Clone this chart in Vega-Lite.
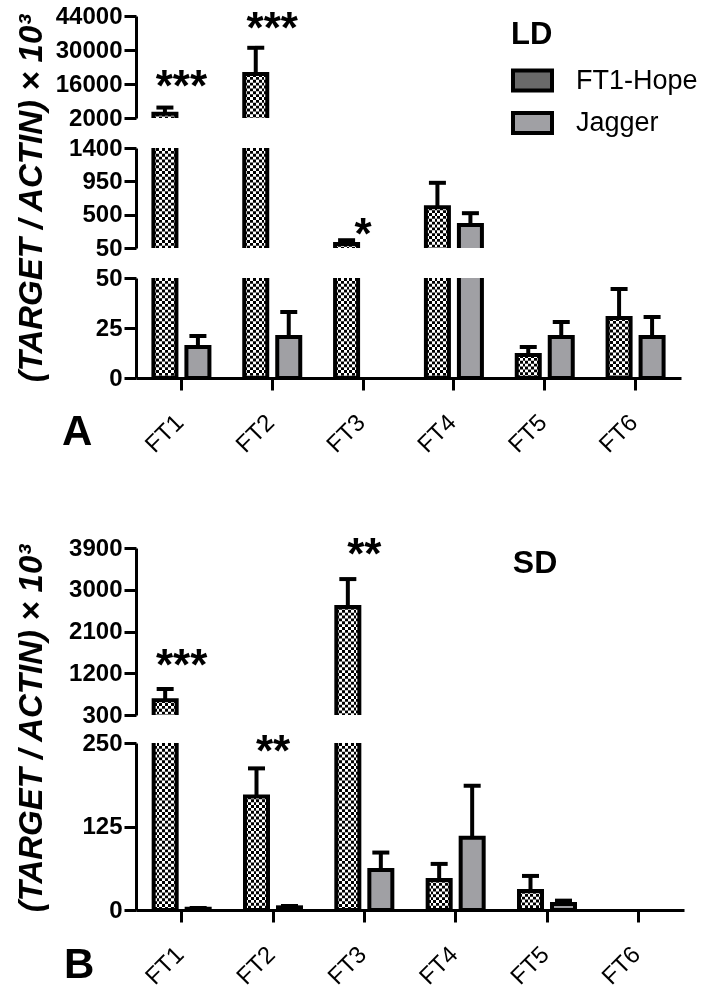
{
"$schema": "https://vega.github.io/schema/vega-lite/v6.json",
"padding": {"left": 15, "top": 4, "right": 0, "bottom": 0},
"datasets": {
"ld": [
 {"g":"FT1","c":"FT1-Hope","v":3800,"u":6300},
 {"g":"FT1","c":"Jagger","v":15.5,"u":21},
 {"g":"FT2","c":"FT1-Hope","v":20100,"u":30900},
 {"g":"FT2","c":"Jagger","v":20.5,"u":33},
 {"g":"FT3","c":"FT1-Hope","v":105,"u":155},
 {"g":"FT4","c":"FT1-Hope","v":600,"u":930},
 {"g":"FT4","c":"Jagger","v":360,"u":520},
 {"g":"FT5","c":"FT1-Hope","v":11.5,"u":15.5},
 {"g":"FT5","c":"Jagger","v":20.5,"u":28},
 {"g":"FT6","c":"FT1-Hope","v":30,"u":44.5},
 {"g":"FT6","c":"Jagger","v":20.5,"u":30.5}
],
"ldstars": [
 {"g":"FT1","t":"***","y":8800,"seg":"top"},
 {"g":"FT2","t":"***","y":32700,"seg":"top"},
 {"g":"FT3","t":"*","y":30,"seg":"mid"}
],
"sd": [
 {"g":"FT1","c":"FT1-Hope","v":620,"u":860},
 {"g":"FT1","c":"Jagger","v":2,"u":3},
 {"g":"FT2","c":"FT1-Hope","v":170,"u":212},
 {"g":"FT2","c":"Jagger","v":4,"u":6},
 {"g":"FT3","c":"FT1-Hope","v":2630,"u":3230},
 {"g":"FT3","c":"Jagger","v":60,"u":86},
 {"g":"FT4","c":"FT1-Hope","v":45,"u":69},
 {"g":"FT4","c":"Jagger","v":108,"u":186},
 {"g":"FT5","c":"FT1-Hope","v":28.5,"u":51},
 {"g":"FT5","c":"Jagger","v":9,"u":14}
],
"sdstars": [
 {"g":"FT1","t":"***","y":1065,"seg":"top"},
 {"g":"FT2","t":"**","y":216,"seg":"bot"},
 {"g":"FT3","t":"**","y":3437,"seg":"top"},
 {"g":"FT5","t":"SD","y":3360,"seg":"label"}
]
},
"spacing": 76,
"resolve": {"scale": {"x": "independent", "xOffset": "independent", "y": "independent", "fill": "independent"}, "legend": {"fill": "independent"}},
"vconcat": [
{
"spacing": 30, "bounds": "flush",
"resolve": {"scale": {"x": "independent", "xOffset": "independent", "y": "independent", "fill": "independent"}, "legend": {"fill": "independent"}},
"vconcat": [
{
 "width": 545, "height": 102,
 "data": {"name": "ld"},
 "resolve": {"scale": {"y": "independent"}},
 "layer": [
  {"transform": [{"filter": "datum.c === 'Jagger'"}],
   "mark": {"type": "bar", "clip": true},
   "encoding": {
    "x": {"field":"g","type":"nominal","scale":{"domain":["FT1","FT2","FT3","FT4","FT5","FT6"],"paddingInner":0.3835,"paddingOuter":0.19175},"axis":null},
    "xOffset": {"field":"c","type":"nominal","scale":{"domain":["FT1-Hope","Jagger"],"paddingInner":0.303,"paddingOuter":0}},
    "y": {"field":"v","type":"quantitative","scale":{"domain":[2000,44000],"zero":false,"nice":false},"axis":{"values":[2000,16000,30000,44000],"format":"d","title":null}},
    "y2": {"datum": -40000},
    "fill": {"field":"c","type":"nominal","scale":{"domain":["FT1-Hope","Jagger"],"range":["#6a6a6a","#a0a0a4"]},
      "legend": {"title":"LD","orient":"none","legendX":375,"legendY":4,"padding":0,"titleFontSize":31,"titleFontWeight":"bold","titleColor":"black","titlePadding":8,"labelFontSize":27,"labelColor":"black","labelOffset":22,"symbolType":"M-1,-0.513H1V0.513H-1Z","symbolSize":1521,"symbolStrokeColor":"black","symbolStrokeWidth":4,"rowPadding":2.5,"symbolOpacity":1}}
   }},
  {"transform": [{"filter": "datum.c === 'FT1-Hope'"}],
   "mark": {"type": "bar", "clip": true, "fill": {"gradient":"linear","x1":0,"y1":0,"x2":1,"y2":0,"stops":[{"offset":0,"color":"#000000"},{"offset":0.125,"color":"#000000"},{"offset":0.125,"color":"#ffffff"},{"offset":0.25,"color":"#ffffff"},{"offset":0.25,"color":"#000000"},{"offset":0.375,"color":"#000000"},{"offset":0.375,"color":"#ffffff"},{"offset":0.5,"color":"#ffffff"},{"offset":0.5,"color":"#000000"},{"offset":0.625,"color":"#000000"},{"offset":0.625,"color":"#ffffff"},{"offset":0.75,"color":"#ffffff"},{"offset":0.75,"color":"#000000"},{"offset":0.875,"color":"#000000"},{"offset":0.875,"color":"#ffffff"},{"offset":1,"color":"#ffffff"}]}},
   "encoding": {
    "x": {"field":"g","type":"nominal","scale":{"domain":["FT1","FT2","FT3","FT4","FT5","FT6"],"paddingInner":0.3835,"paddingOuter":0.19175},"axis":null},
    "xOffset": {"field":"c","type":"nominal","scale":{"domain":["FT1-Hope","Jagger"],"paddingInner":0.303,"paddingOuter":0}},
    "y": {"field":"v","type":"quantitative","scale":{"domain":[2000,44000],"zero":false,"nice":false},"axis":null},
    "y2": {"datum": -40000}
   }},
  {"transform": [{"filter": "datum.c === 'FT1-Hope' && datum.v > 2000"}],
   "mark": {"type": "rule", "color": "white", "strokeWidth": 23, "strokeDash": [2.875, 2.875], "strokeCap": "butt", "blend": "difference"},
   "encoding": {
    "x": {"field":"g","type":"nominal","scale":{"domain":["FT1","FT2","FT3","FT4","FT5","FT6"],"paddingInner":0.3835,"paddingOuter":0.19175},"axis":null},
    "xOffset": {"field":"c","type":"nominal","scale":{"domain":["FT1-Hope","Jagger"],"paddingInner":0.303,"paddingOuter":0}},
    "y": {"field":"v","type":"quantitative","scale":{"domain":[2000,44000],"zero":false,"nice":false,"clamp":true},"axis":null},
    "y2": {"datum": -40000}
   }},
  {"transform": [{"filter": "datum.v > 2000"}],
   "mark": {"type": "bar", "clip": true, "fill": "transparent", "stroke": "black", "strokeWidth": 4},
   "encoding": {
    "x": {"field":"g","type":"nominal","scale":{"domain":["FT1","FT2","FT3","FT4","FT5","FT6"],"paddingInner":0.3835,"paddingOuter":0.19175},"axis":null},
    "xOffset": {"field":"c","type":"nominal","scale":{"domain":["FT1-Hope","Jagger"],"paddingInner":0.303,"paddingOuter":0}},
    "y": {"field":"v","type":"quantitative","scale":{"domain":[2000,44000],"zero":false,"nice":false},"axis":null},
    "y2": {"datum": -40000}
   }},
  {"transform": [{"filter": "datum.u > 2000"}],
   "mark": {"type": "rule", "clip": true, "color": "black", "strokeWidth": 4},
   "encoding": {
    "x": {"field":"g","type":"nominal","scale":{"domain":["FT1","FT2","FT3","FT4","FT5","FT6"],"paddingInner":0.3835,"paddingOuter":0.19175},"axis":null},
    "xOffset": {"field":"c","type":"nominal","scale":{"domain":["FT1-Hope","Jagger"],"paddingInner":0.303,"paddingOuter":0}},
    "y": {"field":"v","type":"quantitative","scale":{"domain":[2000,44000],"zero":false,"nice":false},"axis":null},
    "y2": {"field": "u"}
   }},
  {"transform": [{"filter": "datum.u > 2000"}],
   "mark": {"type": "tick", "clip": true, "color": "black", "thickness": 4, "size": 17, "opacity": 1},
   "encoding": {
    "x": {"field":"g","type":"nominal","scale":{"domain":["FT1","FT2","FT3","FT4","FT5","FT6"],"paddingInner":0.3835,"paddingOuter":0.19175},"axis":null},
    "xOffset": {"field":"c","type":"nominal","scale":{"domain":["FT1-Hope","Jagger"],"paddingInner":0.303,"paddingOuter":0}},
    "y": {"field":"u","type":"quantitative","scale":{"domain":[2000,44000],"zero":false,"nice":false},"axis":null}
   }},
  {"data": {"name": "ldstars"},
   "transform": [{"filter": "datum.seg === 'top'"}],
   "mark": {"type": "text", "fontSize": 44, "fontWeight": "bold", "baseline": "alphabetic", "color": "black"},
   "encoding": {
    "x": {"field":"g","type":"nominal","scale":{"domain":["FT1","FT2","FT3","FT4","FT5","FT6"],"paddingInner":0.3835,"paddingOuter":0.19175},"axis":null},
    "y": {"field":"y","type":"quantitative","scale":{"domain":[2000,44000],"zero":false,"nice":false},"axis":null},
    "text": {"field": "t"}
   }}
 ]
},
{
 "width": 545, "height": 100,
 "data": {"name": "ld"},
 "resolve": {"scale": {"y": "independent"}},
 "layer": [
  {"transform": [{"filter": "datum.c === 'Jagger'"}],
   "mark": {"type": "bar", "clip": true, "fill": "#a0a0a4"},
   "encoding": {
    "x": {"field":"g","type":"nominal","scale":{"domain":["FT1","FT2","FT3","FT4","FT5","FT6"],"paddingInner":0.3835,"paddingOuter":0.19175},"axis":null},
    "xOffset": {"field":"c","type":"nominal","scale":{"domain":["FT1-Hope","Jagger"],"paddingInner":0.303,"paddingOuter":0}},
    "y": {"field":"v","type":"quantitative","scale":{"domain":[50,1400],"zero":false,"nice":false},"axis":{"values":[50,500,950,1400],"format":"d","title":"(TARGET / ACTIN) × 10³","titleFontSize":33,"titleFontWeight":"bold","titleFontStyle":"italic","titlePadding":20}},
    "y2": {"datum": -1300}
   }},
  {"transform": [{"filter": "datum.c === 'FT1-Hope'"}],
   "mark": {"type": "bar", "clip": true, "fill": {"gradient":"linear","x1":0,"y1":0,"x2":1,"y2":0,"stops":[{"offset":0,"color":"#000000"},{"offset":0.125,"color":"#000000"},{"offset":0.125,"color":"#ffffff"},{"offset":0.25,"color":"#ffffff"},{"offset":0.25,"color":"#000000"},{"offset":0.375,"color":"#000000"},{"offset":0.375,"color":"#ffffff"},{"offset":0.5,"color":"#ffffff"},{"offset":0.5,"color":"#000000"},{"offset":0.625,"color":"#000000"},{"offset":0.625,"color":"#ffffff"},{"offset":0.75,"color":"#ffffff"},{"offset":0.75,"color":"#000000"},{"offset":0.875,"color":"#000000"},{"offset":0.875,"color":"#ffffff"},{"offset":1,"color":"#ffffff"}]}},
   "encoding": {
    "x": {"field":"g","type":"nominal","scale":{"domain":["FT1","FT2","FT3","FT4","FT5","FT6"],"paddingInner":0.3835,"paddingOuter":0.19175},"axis":null},
    "xOffset": {"field":"c","type":"nominal","scale":{"domain":["FT1-Hope","Jagger"],"paddingInner":0.303,"paddingOuter":0}},
    "y": {"field":"v","type":"quantitative","scale":{"domain":[50,1400],"zero":false,"nice":false},"axis":null},
    "y2": {"datum": -1300}
   }},
  {"transform": [{"filter": "datum.c === 'FT1-Hope' && datum.v > 50"}],
   "mark": {"type": "rule", "color": "white", "strokeWidth": 23, "strokeDash": [2.875, 2.875], "strokeCap": "butt", "blend": "difference"},
   "encoding": {
    "x": {"field":"g","type":"nominal","scale":{"domain":["FT1","FT2","FT3","FT4","FT5","FT6"],"paddingInner":0.3835,"paddingOuter":0.19175},"axis":null},
    "xOffset": {"field":"c","type":"nominal","scale":{"domain":["FT1-Hope","Jagger"],"paddingInner":0.303,"paddingOuter":0}},
    "y": {"field":"v","type":"quantitative","scale":{"domain":[50,1400],"zero":false,"nice":false,"clamp":true},"axis":null},
    "y2": {"datum": -1300}
   }},
  {"transform": [{"filter": "datum.v > 50"}],
   "mark": {"type": "bar", "clip": true, "fill": "transparent", "stroke": "black", "strokeWidth": 4},
   "encoding": {
    "x": {"field":"g","type":"nominal","scale":{"domain":["FT1","FT2","FT3","FT4","FT5","FT6"],"paddingInner":0.3835,"paddingOuter":0.19175},"axis":null},
    "xOffset": {"field":"c","type":"nominal","scale":{"domain":["FT1-Hope","Jagger"],"paddingInner":0.303,"paddingOuter":0}},
    "y": {"field":"v","type":"quantitative","scale":{"domain":[50,1400],"zero":false,"nice":false},"axis":null},
    "y2": {"datum": -1300}
   }},
  {"transform": [{"filter": "datum.u > 50"}],
   "mark": {"type": "rule", "clip": true, "color": "black", "strokeWidth": 4},
   "encoding": {
    "x": {"field":"g","type":"nominal","scale":{"domain":["FT1","FT2","FT3","FT4","FT5","FT6"],"paddingInner":0.3835,"paddingOuter":0.19175},"axis":null},
    "xOffset": {"field":"c","type":"nominal","scale":{"domain":["FT1-Hope","Jagger"],"paddingInner":0.303,"paddingOuter":0}},
    "y": {"field":"v","type":"quantitative","scale":{"domain":[50,1400],"zero":false,"nice":false},"axis":null},
    "y2": {"field": "u"}
   }},
  {"transform": [{"filter": "datum.u > 50"}],
   "mark": {"type": "tick", "clip": true, "color": "black", "thickness": 4, "size": 17, "opacity": 1},
   "encoding": {
    "x": {"field":"g","type":"nominal","scale":{"domain":["FT1","FT2","FT3","FT4","FT5","FT6"],"paddingInner":0.3835,"paddingOuter":0.19175},"axis":null},
    "xOffset": {"field":"c","type":"nominal","scale":{"domain":["FT1-Hope","Jagger"],"paddingInner":0.303,"paddingOuter":0}},
    "y": {"field":"u","type":"quantitative","scale":{"domain":[50,1400],"zero":false,"nice":false},"axis":null}
   }},
  {"data": {"name": "ldstars"},
   "transform": [{"filter": "datum.seg === 'mid'"}],
   "mark": {"type": "text", "fontSize": 44, "fontWeight": "bold", "baseline": "alphabetic", "color": "black"},
   "encoding": {
    "x": {"field":"g","type":"nominal","scale":{"domain":["FT1","FT2","FT3","FT4","FT5","FT6"],"paddingInner":0.3835,"paddingOuter":0.19175},"axis":null},
    "y": {"field":"y","type":"quantitative","scale":{"domain":[50,1400],"zero":false,"nice":false},"axis":null},
    "text": {"field": "t"}
   }}
 ]
},
{
 "width": 545, "height": 100,
 "data": {"name": "ld"},
 "title": {"text": "A", "orient": "bottom", "anchor": "start", "frame": "group", "fontSize": 42, "fontWeight": "bold", "color": "black", "dx": -74, "offset": -45},
 "resolve": {"scale": {"y": "independent"}},
 "layer": [
  {"transform": [{"filter": "datum.c === 'Jagger'"}],
   "mark": {"type": "bar", "clip": true, "fill": "#a0a0a4"},
   "encoding": {
    "x": {"field":"g","type":"nominal","scale":{"domain":["FT1","FT2","FT3","FT4","FT5","FT6"],"paddingInner":0.3835,"paddingOuter":0.19175},"axis":{"title":null}},
    "xOffset": {"field":"c","type":"nominal","scale":{"domain":["FT1-Hope","Jagger"],"paddingInner":0.303,"paddingOuter":0}},
    "y": {"field":"v","type":"quantitative","scale":{"domain":[0,50],"zero":false,"nice":false},"axis":{"values":[0,25,50],"format":"d","title":null}},
    "y2": {"datum": 0}
   }},
  {"transform": [{"filter": "datum.c === 'FT1-Hope'"}],
   "mark": {"type": "bar", "clip": true, "fill": {"gradient":"linear","x1":0,"y1":0,"x2":1,"y2":0,"stops":[{"offset":0,"color":"#000000"},{"offset":0.125,"color":"#000000"},{"offset":0.125,"color":"#ffffff"},{"offset":0.25,"color":"#ffffff"},{"offset":0.25,"color":"#000000"},{"offset":0.375,"color":"#000000"},{"offset":0.375,"color":"#ffffff"},{"offset":0.5,"color":"#ffffff"},{"offset":0.5,"color":"#000000"},{"offset":0.625,"color":"#000000"},{"offset":0.625,"color":"#ffffff"},{"offset":0.75,"color":"#ffffff"},{"offset":0.75,"color":"#000000"},{"offset":0.875,"color":"#000000"},{"offset":0.875,"color":"#ffffff"},{"offset":1,"color":"#ffffff"}]}},
   "encoding": {
    "x": {"field":"g","type":"nominal","scale":{"domain":["FT1","FT2","FT3","FT4","FT5","FT6"],"paddingInner":0.3835,"paddingOuter":0.19175},"axis":{"title":null}},
    "xOffset": {"field":"c","type":"nominal","scale":{"domain":["FT1-Hope","Jagger"],"paddingInner":0.303,"paddingOuter":0}},
    "y": {"field":"v","type":"quantitative","scale":{"domain":[0,50],"zero":false,"nice":false},"axis":null},
    "y2": {"datum": 0}
   }},
  {"transform": [{"filter": "datum.c === 'FT1-Hope' && datum.v > 0"}],
   "mark": {"type": "rule", "color": "white", "strokeWidth": 23, "strokeDash": [2.875, 2.875], "strokeCap": "butt", "blend": "difference"},
   "encoding": {
    "x": {"field":"g","type":"nominal","scale":{"domain":["FT1","FT2","FT3","FT4","FT5","FT6"],"paddingInner":0.3835,"paddingOuter":0.19175},"axis":{"title":null}},
    "xOffset": {"field":"c","type":"nominal","scale":{"domain":["FT1-Hope","Jagger"],"paddingInner":0.303,"paddingOuter":0}},
    "y": {"field":"v","type":"quantitative","scale":{"domain":[0,50],"zero":false,"nice":false,"clamp":true},"axis":null},
    "y2": {"datum": 0}
   }},
  {"mark": {"type": "bar", "clip": true, "fill": "transparent", "stroke": "black", "strokeWidth": 4},
   "encoding": {
    "x": {"field":"g","type":"nominal","scale":{"domain":["FT1","FT2","FT3","FT4","FT5","FT6"],"paddingInner":0.3835,"paddingOuter":0.19175},"axis":{"title":null}},
    "xOffset": {"field":"c","type":"nominal","scale":{"domain":["FT1-Hope","Jagger"],"paddingInner":0.303,"paddingOuter":0}},
    "y": {"field":"v","type":"quantitative","scale":{"domain":[0,50],"zero":false,"nice":false},"axis":null},
    "y2": {"datum": 0}
   }},
  {"mark": {"type": "rule", "clip": true, "color": "black", "strokeWidth": 4},
   "encoding": {
    "x": {"field":"g","type":"nominal","scale":{"domain":["FT1","FT2","FT3","FT4","FT5","FT6"],"paddingInner":0.3835,"paddingOuter":0.19175},"axis":{"title":null}},
    "xOffset": {"field":"c","type":"nominal","scale":{"domain":["FT1-Hope","Jagger"],"paddingInner":0.303,"paddingOuter":0}},
    "y": {"field":"v","type":"quantitative","scale":{"domain":[0,50],"zero":false,"nice":false},"axis":null},
    "y2": {"field": "u"}
   }},
  {"mark": {"type": "tick", "clip": true, "color": "black", "thickness": 4, "size": 17, "opacity": 1},
   "encoding": {
    "x": {"field":"g","type":"nominal","scale":{"domain":["FT1","FT2","FT3","FT4","FT5","FT6"],"paddingInner":0.3835,"paddingOuter":0.19175},"axis":{"title":null}},
    "xOffset": {"field":"c","type":"nominal","scale":{"domain":["FT1-Hope","Jagger"],"paddingInner":0.303,"paddingOuter":0}},
    "y": {"field":"u","type":"quantitative","scale":{"domain":[0,50],"zero":false,"nice":false},"axis":null}
   }}
 ]
}
]
},
{
"spacing": 28, "bounds": "flush",
"resolve": {"scale": {"x": "independent", "xOffset": "independent", "y": "independent", "fill": "independent"}, "legend": {"fill": "independent"}},
"vconcat": [
{
 "width": 548, "height": 167,
 "data": {"name": "sd"},
 "resolve": {"scale": {"y": "independent"}},
 "layer": [
  {"transform": [{"filter": "datum.c === 'Jagger'"}],
   "mark": {"type": "bar", "clip": true, "fill": "#a0a0a4"},
   "encoding": {
    "x": {"field":"g","type":"nominal","scale":{"domain":["FT1","FT2","FT3","FT4","FT5","FT6"],"paddingInner":0.3868,"paddingOuter":0.1934},"axis":null},
    "xOffset": {"field":"c","type":"nominal","scale":{"domain":["FT1-Hope","Jagger"],"paddingInner":0.303,"paddingOuter":0}},
    "y": {"field":"v","type":"quantitative","scale":{"domain":[300,3900],"zero":false,"nice":false},"axis":{"values":[300,1200,2100,3000,3900],"format":"d","title":"(TARGET / ACTIN) × 10³","titleFontSize":33,"titleFontWeight":"bold","titleFontStyle":"italic","titlePadding":20,"titleY":180}},
    "y2": {"datum": -3300}
   }},
  {"transform": [{"filter": "datum.c === 'FT1-Hope'"}],
   "mark": {"type": "bar", "clip": true, "fill": {"gradient":"linear","x1":0,"y1":0,"x2":1,"y2":0,"stops":[{"offset":0,"color":"#000000"},{"offset":0.125,"color":"#000000"},{"offset":0.125,"color":"#ffffff"},{"offset":0.25,"color":"#ffffff"},{"offset":0.25,"color":"#000000"},{"offset":0.375,"color":"#000000"},{"offset":0.375,"color":"#ffffff"},{"offset":0.5,"color":"#ffffff"},{"offset":0.5,"color":"#000000"},{"offset":0.625,"color":"#000000"},{"offset":0.625,"color":"#ffffff"},{"offset":0.75,"color":"#ffffff"},{"offset":0.75,"color":"#000000"},{"offset":0.875,"color":"#000000"},{"offset":0.875,"color":"#ffffff"},{"offset":1,"color":"#ffffff"}]}},
   "encoding": {
    "x": {"field":"g","type":"nominal","scale":{"domain":["FT1","FT2","FT3","FT4","FT5","FT6"],"paddingInner":0.3868,"paddingOuter":0.1934},"axis":null},
    "xOffset": {"field":"c","type":"nominal","scale":{"domain":["FT1-Hope","Jagger"],"paddingInner":0.303,"paddingOuter":0}},
    "y": {"field":"v","type":"quantitative","scale":{"domain":[300,3900],"zero":false,"nice":false},"axis":null},
    "y2": {"datum": -3300}
   }},
  {"transform": [{"filter": "datum.c === 'FT1-Hope' && datum.v > 300"}],
   "mark": {"type": "rule", "color": "white", "strokeWidth": 23, "strokeDash": [2.875, 2.875], "strokeCap": "butt", "blend": "difference"},
   "encoding": {
    "x": {"field":"g","type":"nominal","scale":{"domain":["FT1","FT2","FT3","FT4","FT5","FT6"],"paddingInner":0.3868,"paddingOuter":0.1934},"axis":null},
    "xOffset": {"field":"c","type":"nominal","scale":{"domain":["FT1-Hope","Jagger"],"paddingInner":0.303,"paddingOuter":0}},
    "y": {"field":"v","type":"quantitative","scale":{"domain":[300,3900],"zero":false,"nice":false,"clamp":true},"axis":null},
    "y2": {"datum": -3300}
   }},
  {"transform": [{"filter": "datum.v > 300"}],
   "mark": {"type": "bar", "clip": true, "fill": "transparent", "stroke": "black", "strokeWidth": 4},
   "encoding": {
    "x": {"field":"g","type":"nominal","scale":{"domain":["FT1","FT2","FT3","FT4","FT5","FT6"],"paddingInner":0.3868,"paddingOuter":0.1934},"axis":null},
    "xOffset": {"field":"c","type":"nominal","scale":{"domain":["FT1-Hope","Jagger"],"paddingInner":0.303,"paddingOuter":0}},
    "y": {"field":"v","type":"quantitative","scale":{"domain":[300,3900],"zero":false,"nice":false},"axis":null},
    "y2": {"datum": -3300}
   }},
  {"transform": [{"filter": "datum.u > 300"}],
   "mark": {"type": "rule", "clip": true, "color": "black", "strokeWidth": 4},
   "encoding": {
    "x": {"field":"g","type":"nominal","scale":{"domain":["FT1","FT2","FT3","FT4","FT5","FT6"],"paddingInner":0.3868,"paddingOuter":0.1934},"axis":null},
    "xOffset": {"field":"c","type":"nominal","scale":{"domain":["FT1-Hope","Jagger"],"paddingInner":0.303,"paddingOuter":0}},
    "y": {"field":"v","type":"quantitative","scale":{"domain":[300,3900],"zero":false,"nice":false},"axis":null},
    "y2": {"field": "u"}
   }},
  {"transform": [{"filter": "datum.u > 300"}],
   "mark": {"type": "tick", "clip": true, "color": "black", "thickness": 4, "size": 17, "opacity": 1},
   "encoding": {
    "x": {"field":"g","type":"nominal","scale":{"domain":["FT1","FT2","FT3","FT4","FT5","FT6"],"paddingInner":0.3868,"paddingOuter":0.1934},"axis":null},
    "xOffset": {"field":"c","type":"nominal","scale":{"domain":["FT1-Hope","Jagger"],"paddingInner":0.303,"paddingOuter":0}},
    "y": {"field":"u","type":"quantitative","scale":{"domain":[300,3900],"zero":false,"nice":false},"axis":null}
   }},
  {"data": {"name": "sdstars"},
   "transform": [{"filter": "datum.seg === 'top'"}],
   "mark": {"type": "text", "fontSize": 44, "fontWeight": "bold", "baseline": "alphabetic", "color": "black"},
   "encoding": {
    "x": {"field":"g","type":"nominal","scale":{"domain":["FT1","FT2","FT3","FT4","FT5","FT6"],"paddingInner":0.3868,"paddingOuter":0.1934},"axis":null},
    "y": {"field":"y","type":"quantitative","scale":{"domain":[300,3900],"zero":false,"nice":false},"axis":null},
    "text": {"field": "t"}
   }},
  {"data": {"name": "sdstars"},
   "transform": [{"filter": "datum.seg === 'label'"}],
   "mark": {"type": "text", "fontSize": 32, "fontWeight": "bold", "baseline": "alphabetic", "color": "black", "dx": -12},
   "encoding": {
    "x": {"field":"g","type":"nominal","scale":{"domain":["FT1","FT2","FT3","FT4","FT5","FT6"],"paddingInner":0.3868,"paddingOuter":0.1934},"axis":null},
    "y": {"field":"y","type":"quantitative","scale":{"domain":[300,3900],"zero":false,"nice":false},"axis":null},
    "text": {"field": "t"}
   }}
 ]
},
{
 "width": 548, "height": 167,
 "data": {"name": "sd"},
 "title": {"text": "B", "orient": "bottom", "anchor": "start", "frame": "group", "fontSize": 42, "fontWeight": "bold", "color": "black", "dx": -72, "offset": -44},
 "resolve": {"scale": {"y": "independent"}},
 "layer": [
  {"transform": [{"filter": "datum.c === 'Jagger'"}],
   "mark": {"type": "bar", "clip": true, "fill": "#a0a0a4"},
   "encoding": {
    "x": {"field":"g","type":"nominal","scale":{"domain":["FT1","FT2","FT3","FT4","FT5","FT6"],"paddingInner":0.3868,"paddingOuter":0.1934},"axis":{"title":null}},
    "xOffset": {"field":"c","type":"nominal","scale":{"domain":["FT1-Hope","Jagger"],"paddingInner":0.303,"paddingOuter":0}},
    "y": {"field":"v","type":"quantitative","scale":{"domain":[0,250],"zero":false,"nice":false},"axis":{"values":[0,125,250],"format":"d","title":null}},
    "y2": {"datum": 0}
   }},
  {"transform": [{"filter": "datum.c === 'FT1-Hope'"}],
   "mark": {"type": "bar", "clip": true, "fill": {"gradient":"linear","x1":0,"y1":0,"x2":1,"y2":0,"stops":[{"offset":0,"color":"#000000"},{"offset":0.125,"color":"#000000"},{"offset":0.125,"color":"#ffffff"},{"offset":0.25,"color":"#ffffff"},{"offset":0.25,"color":"#000000"},{"offset":0.375,"color":"#000000"},{"offset":0.375,"color":"#ffffff"},{"offset":0.5,"color":"#ffffff"},{"offset":0.5,"color":"#000000"},{"offset":0.625,"color":"#000000"},{"offset":0.625,"color":"#ffffff"},{"offset":0.75,"color":"#ffffff"},{"offset":0.75,"color":"#000000"},{"offset":0.875,"color":"#000000"},{"offset":0.875,"color":"#ffffff"},{"offset":1,"color":"#ffffff"}]}},
   "encoding": {
    "x": {"field":"g","type":"nominal","scale":{"domain":["FT1","FT2","FT3","FT4","FT5","FT6"],"paddingInner":0.3868,"paddingOuter":0.1934},"axis":{"title":null}},
    "xOffset": {"field":"c","type":"nominal","scale":{"domain":["FT1-Hope","Jagger"],"paddingInner":0.303,"paddingOuter":0}},
    "y": {"field":"v","type":"quantitative","scale":{"domain":[0,250],"zero":false,"nice":false},"axis":null},
    "y2": {"datum": 0}
   }},
  {"transform": [{"filter": "datum.c === 'FT1-Hope' && datum.v > 0"}],
   "mark": {"type": "rule", "color": "white", "strokeWidth": 23, "strokeDash": [2.875, 2.875], "strokeCap": "butt", "blend": "difference"},
   "encoding": {
    "x": {"field":"g","type":"nominal","scale":{"domain":["FT1","FT2","FT3","FT4","FT5","FT6"],"paddingInner":0.3868,"paddingOuter":0.1934},"axis":{"title":null}},
    "xOffset": {"field":"c","type":"nominal","scale":{"domain":["FT1-Hope","Jagger"],"paddingInner":0.303,"paddingOuter":0}},
    "y": {"field":"v","type":"quantitative","scale":{"domain":[0,250],"zero":false,"nice":false,"clamp":true},"axis":null},
    "y2": {"datum": 0}
   }},
  {"mark": {"type": "bar", "clip": true, "fill": "transparent", "stroke": "black", "strokeWidth": 4},
   "encoding": {
    "x": {"field":"g","type":"nominal","scale":{"domain":["FT1","FT2","FT3","FT4","FT5","FT6"],"paddingInner":0.3868,"paddingOuter":0.1934},"axis":{"title":null}},
    "xOffset": {"field":"c","type":"nominal","scale":{"domain":["FT1-Hope","Jagger"],"paddingInner":0.303,"paddingOuter":0}},
    "y": {"field":"v","type":"quantitative","scale":{"domain":[0,250],"zero":false,"nice":false},"axis":null},
    "y2": {"datum": 0}
   }},
  {"mark": {"type": "rule", "clip": true, "color": "black", "strokeWidth": 4},
   "encoding": {
    "x": {"field":"g","type":"nominal","scale":{"domain":["FT1","FT2","FT3","FT4","FT5","FT6"],"paddingInner":0.3868,"paddingOuter":0.1934},"axis":{"title":null}},
    "xOffset": {"field":"c","type":"nominal","scale":{"domain":["FT1-Hope","Jagger"],"paddingInner":0.303,"paddingOuter":0}},
    "y": {"field":"v","type":"quantitative","scale":{"domain":[0,250],"zero":false,"nice":false},"axis":null},
    "y2": {"field": "u"}
   }},
  {"mark": {"type": "tick", "clip": true, "color": "black", "thickness": 4, "size": 17, "opacity": 1},
   "encoding": {
    "x": {"field":"g","type":"nominal","scale":{"domain":["FT1","FT2","FT3","FT4","FT5","FT6"],"paddingInner":0.3868,"paddingOuter":0.1934},"axis":{"title":null}},
    "xOffset": {"field":"c","type":"nominal","scale":{"domain":["FT1-Hope","Jagger"],"paddingInner":0.303,"paddingOuter":0}},
    "y": {"field":"u","type":"quantitative","scale":{"domain":[0,250],"zero":false,"nice":false},"axis":null}
   }},
  {"data": {"name": "sdstars"},
   "transform": [{"filter": "datum.seg === 'bot'"}],
   "mark": {"type": "text", "fontSize": 44, "fontWeight": "bold", "baseline": "alphabetic", "color": "black"},
   "encoding": {
    "x": {"field":"g","type":"nominal","scale":{"domain":["FT1","FT2","FT3","FT4","FT5","FT6"],"paddingInner":0.3868,"paddingOuter":0.1934},"axis":{"title":null}},
    "y": {"field":"y","type":"quantitative","scale":{"domain":[0,250],"zero":false,"nice":false},"axis":null},
    "text": {"field": "t"}
   }}
 ]
}
]
}
],
"config": {
 "font": "Liberation Sans",
 "view": {"stroke": null},
 "axis": {"domainColor": "black", "domainWidth": 3, "tickColor": "black", "tickWidth": 3, "tickSize": 12, "labelColor": "black", "grid": false, "labelFlush": false, "labelOverlap": false, "titleColor": "black"},
 "axisY": {"labelFontSize": 24, "labelFontWeight": "bold", "labelPadding": 2},
 "axisX": {"labelFontSize": 24, "labelFontWeight": "normal", "labelAngle": -45, "labelPadding": 20, "labelOffset": -10}
}
}
